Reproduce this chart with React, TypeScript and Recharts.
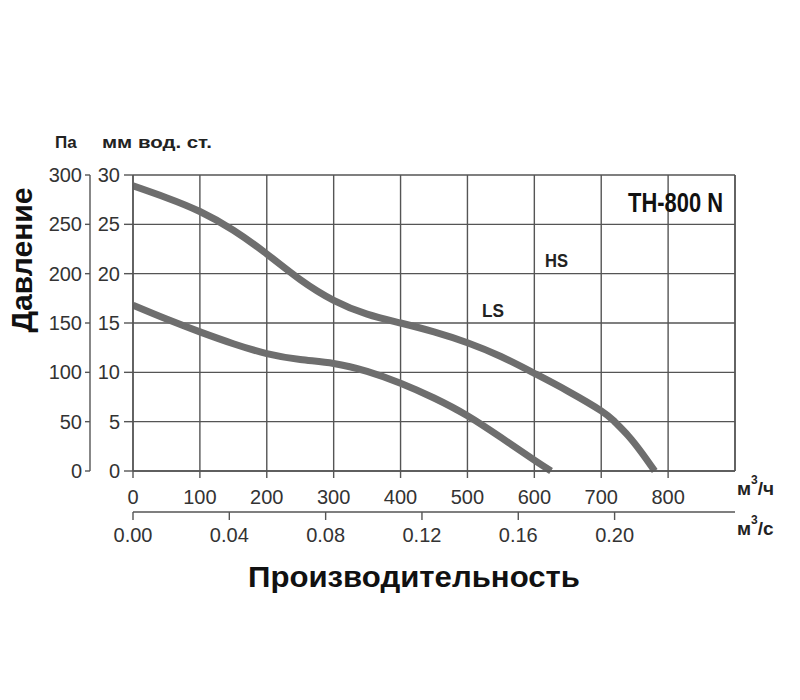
import React from 'react';
import { LineChart, Line, XAxis, YAxis, CartesianGrid, ReferenceLine } from 'recharts';

// Flow in m³/h, pressure in mm w.g.
const hsFlow = [0, 50, 100, 150, 200, 250, 300, 350, 400, 450, 500, 550, 600, 650, 700, 720, 740, 760, 780];
const hsPressure = [28.9, 27.7, 26.3, 24.4, 22.0, 19.4, 17.3, 15.9, 15.0, 14.1, 13.0, 11.6, 9.9, 8.1, 6.1, 5.0, 3.6, 1.9, 0];
const lsFlow = [0, 50, 100, 150, 200, 250, 300, 350, 400, 450, 500, 550, 600, 625];
const lsPressure = [16.8, 15.4, 14.1, 12.9, 11.9, 11.3, 10.9, 10.1, 8.9, 7.4, 5.6, 3.4, 1.1, 0];

// Secondary scales (m³/s and Pa) – extent used to anchor the secondary axes
const secFlowExtent = [0, 0.25];
const paExtent = [0, 300];

const flowTicks = [0, 100, 200, 300, 400, 500, 600, 700, 800];
const flowSecTicks = [0, 0.04, 0.08, 0.12, 0.16, 0.2];
const mmTicks = [0, 5, 10, 15, 20, 25, 30];
const paTicks = [0, 50, 100, 150, 200, 250, 300];

const hsData = hsFlow.map((q, i) => ({ q, p: hsPressure[i] }));
const lsData = lsFlow.map((q, i) => ({ q, p: lsPressure[i] }));
const secData = secFlowExtent.map((s, i) => ({ s, pa: paExtent[i] }));

const NARROW = '"Liberation Sans Narrow", "Arial Narrow", "Liberation Sans", Arial, sans-serif';
const BOLD = '"Liberation Sans", Arial, sans-serif';
const tickStyle = { fontFamily: NARROW, fontSize: 20, fill: '#333' };
const axisColor = '#555';
const curveColor = '#6e6e6e';

export default function App() {
  return (
    <div style={{ position: 'absolute', left: 0, top: 0, width: 800, height: 700, background: '#fff' }}>
      <LineChart width={800} height={700} margin={{ top: 175, right: 65, left: 40, bottom: 148 }}>
        <CartesianGrid xAxisId="h" yAxisId="mm" stroke={axisColor} strokeWidth={1.4} />
        <XAxis
          xAxisId="h"
          type="number"
          dataKey="q"
          domain={[0, 900]}
          ticks={flowTicks}
          allowDataOverflow
          height={41}
          tickSize={7}
          tickMargin={12}
          tick={tickStyle}
          stroke={axisColor}
          strokeWidth={1.4}
        />
        <XAxis
          xAxisId="s"
          type="number"
          dataKey="s"
          domain={[0, 0.25]}
          ticks={flowSecTicks}
          allowDataOverflow
          height={40}
          tickSize={8}
          tickMargin={8}
          tick={tickStyle}
          tickFormatter={(v: number) => v.toFixed(2)}
          stroke={axisColor}
          strokeWidth={1.4}
        />
        <YAxis
          yAxisId="mm"
          type="number"
          domain={[0, 30]}
          ticks={mmTicks}
          width={43}
          tickSize={9}
          tickMargin={4}
          tick={tickStyle}
          stroke={axisColor}
          strokeWidth={1.4}
        />
        <YAxis
          yAxisId="pa"
          type="number"
          domain={[0, 300]}
          ticks={paTicks}
          width={50}
          tickSize={5}
          tickMargin={3}
          tick={tickStyle}
          stroke={axisColor}
          strokeWidth={1.4}
        />
        <ReferenceLine xAxisId="h" yAxisId="mm" x={900} stroke={axisColor} strokeWidth={1.4} />
        <Line
          xAxisId="s"
          yAxisId="pa"
          data={secData}
          dataKey="pa"
          stroke="none"
          dot={false}
          activeDot={false}
          legendType="none"
          isAnimationActive={false}
        />
        <Line
          xAxisId="h"
          yAxisId="mm"
          data={hsData}
          dataKey="p"
          type="natural"
          stroke={curveColor}
          strokeWidth={7}
          dot={false}
          isAnimationActive={false}
        />
        <Line
          xAxisId="h"
          yAxisId="mm"
          data={lsData}
          dataKey="p"
          type="natural"
          stroke={curveColor}
          strokeWidth={7}
          dot={false}
          isAnimationActive={false}
        />
      </LineChart>
      <svg
        width={800}
        height={700}
        style={{ position: 'absolute', left: 0, top: 0, pointerEvents: 'none' }}
      >
        <text x={55} y={148} fontFamily={BOLD} fontWeight="bold" fontSize={17} fill="#222">Па</text>
        <text x={102} y={148} fontFamily={BOLD} fontWeight="bold" fontSize={17} fill="#222" textLength={110} lengthAdjust="spacingAndGlyphs">мм вод. ст.</text>
        <text
          x={0}
          y={0}
          transform="translate(32 260) rotate(-90)"
          textAnchor="middle"
          fontFamily={BOLD}
          fontWeight="bold"
          fontSize={29}
          fill="#111"
          textLength={145}
          lengthAdjust="spacingAndGlyphs"
        >
          Давление
        </text>
        <text x={414} y={587} textAnchor="middle" fontFamily={BOLD} fontWeight="bold" fontSize={30} fill="#111" textLength={332} lengthAdjust="spacingAndGlyphs">
          Производительность
        </text>
        <text x={723} y={212} textAnchor="end" fontFamily={NARROW} fontWeight="bold" fontSize={27} fill="#111" textLength={95} lengthAdjust="spacingAndGlyphs">
          TH-800 N
        </text>
        <text x={545} y={267} fontFamily={NARROW} fontWeight="bold" fontSize={19} fill="#222" textLength={23} lengthAdjust="spacingAndGlyphs">HS</text>
        <text x={482} y={317} fontFamily={NARROW} fontWeight="bold" fontSize={19} fill="#222" textLength={22} lengthAdjust="spacingAndGlyphs">LS</text>
        <text x={737} y={495} fontFamily={BOLD} fontWeight="bold" fontSize={19} fill="#222">
          м<tspan fontSize={12} dy={-11}>3</tspan><tspan dy={11}>/ч</tspan>
        </text>
        <text x={737} y={535} fontFamily={BOLD} fontWeight="bold" fontSize={19} fill="#222">
          м<tspan fontSize={12} dy={-11}>3</tspan><tspan dy={11}>/с</tspan>
        </text>
      </svg>
    </div>
  );
}
